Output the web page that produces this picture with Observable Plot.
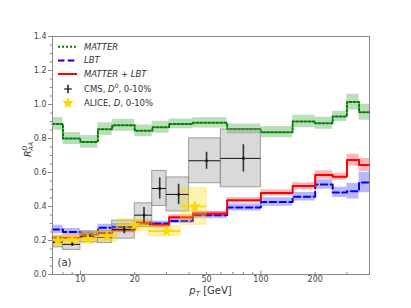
<!DOCTYPE html>
<html>
<head>
<meta charset="utf-8">
<script src="https://cdn.jsdelivr.net/npm/d3@7"></script>
<script src="https://cdn.jsdelivr.net/npm/@observablehq/plot@0.6"></script>
<style>
  html, body { margin: 0; padding: 0; background: white; }
  #chart { width: 411px; height: 308px; }
</style>
</head>
<body>
<div id="chart"></div>
<script>
// ---- Data ----
const theoryEdges = [7, 8, 10, 12.5, 15, 20, 25, 31, 42, 65, 100, 150, 200, 250, 300, 350, 400];
const matter    = [0.886, 0.800, 0.780, 0.855, 0.878, 0.845, 0.866, 0.886, 0.892, 0.856, 0.837, 0.900, 0.890, 0.930, 1.014, 0.955];
const matterErr = [0.038, 0.035, 0.037, 0.037, 0.035, 0.035, 0.035, 0.028, 0.030, 0.030, 0.033, 0.037, 0.035, 0.030, 0.047, 0.047];
const lbt       = [0.264, 0.250, 0.235, 0.275, 0.280, 0.295, 0.300, 0.315, 0.348, 0.394, 0.427, 0.457, 0.530, 0.483, 0.490, 0.541];
const lbtErr    = [0.025, 0.020, 0.020, 0.020, 0.020, 0.015, 0.015, 0.015, 0.020, 0.020, 0.025, 0.025, 0.028, 0.030, 0.046, 0.060];
const mlbt      = [0.215, 0.215, 0.232, 0.244, 0.260, 0.303, 0.289, 0.337, 0.357, 0.437, 0.480, 0.520, 0.585, 0.575, 0.673, 0.644];
const mlbtErr   = [0.015, 0.015, 0.015, 0.015, 0.015, 0.015, 0.015, 0.015, 0.015, 0.016, 0.018, 0.020, 0.025, 0.020, 0.035, 0.038];

const cmsLo   = [6, 8, 10, 12.5, 15, 20, 25, 30, 40, 60];
const cmsHi   = [8, 10, 12.5, 15, 20, 25, 30, 40, 60, 100];
const cmsPt   = [7, 9, 11.25, 13.75, 17.5, 22.5, 27.5, 35, 50, 80];
const cmsR    = [0.190, 0.177, 0.222, 0.220, 0.264, 0.349, 0.506, 0.471, 0.669, 0.683];
const cmsStat = [0.010, 0.010, 0.012, 0.015, 0.025, 0.045, 0.062, 0.060, 0.050, 0.080];
const cmsSyst = [0.030, 0.032, 0.032, 0.035, 0.053, 0.070, 0.103, 0.100, 0.132, 0.170];

const aliceLo   = [7, 8, 10, 12, 16, 24, 36];
const aliceHi   = [8, 10, 12, 16, 24, 36, 50];
const alicePt   = [7.5, 9, 11, 14, 20, 30, 43];
const aliceR    = [0.200, 0.205, 0.210, 0.225, 0.290, 0.255, 0.400];
const aliceStat = [0.010, 0.010, 0.012, 0.015, 0.020, 0.020, 0.027];
const aliceSyst = [0.030, 0.030, 0.030, 0.030, 0.035, 0.030, 0.108];

const yMajor = [0, 0.2, 0.4, 0.6, 0.8, 1.0, 1.2, 1.4];
const yMinor = d3.range(0, 1.4001, 0.05).map(v => +v.toFixed(2));
const xMajor = [10, 100];
const xMinor = [7, 8, 9, 20, 30, 40, 50, 60, 70, 80, 90, 200, 300, 400];
const xLabeled = [10, 20, 50, 100, 200];

// ---- Tables ----
const n = matter.length;
const theory = theoryEdges.map((e, i) => {
  const k = Math.min(i, n - 1);
  return {x: e, m: matter[k], me: matterErr[k], l: lbt[k], le: lbtErr[k], r: mlbt[k], re: mlbtErr[k]};
});
const cms = cmsPt.map((p, i) => ({pt: p, lo: cmsLo[i], hi: cmsHi[i], r: cmsR[i], st: cmsStat[i], sy: cmsSyst[i]}));
const alice = alicePt.map((p, i) => ({pt: p, lo: aliceLo[i], hi: aliceHi[i], r: aliceR[i], st: aliceStat[i], sy: aliceSyst[i]}));

const green = "#008000", blue = "#0000ff", red = "#ff0000", gold = "#ffd700";

const chart = Plot.plot({
  width: 411, height: 308,
  marginLeft: 52, marginRight: 42, marginTop: 36, marginBottom: 34,
  x: {type: "log", domain: [7, 400]},
  y: {domain: [0, 1.4]},
  style: {fontFamily: "DejaVu Sans", fontSize: "8px", color: "#444", background: "white", overflow: "visible"},
  marks: [
    // MATTER
    Plot.areaY(theory, {x: "x", y1: d => d.m - d.me, y2: d => d.m + d.me, curve: "step-after", fill: green, fillOpacity: 0.27}),
    Plot.line(theory, {x: "x", y: "m", curve: "step-after", stroke: green, strokeWidth: 2, strokeDasharray: "2,2"}),
    // LBT
    Plot.areaY(theory, {x: "x", y1: d => d.l - d.le, y2: d => d.l + d.le, curve: "step-after", fill: blue, fillOpacity: 0.28}),
    Plot.line(theory, {x: "x", y: "l", curve: "step-after", stroke: blue, strokeWidth: 2, strokeDasharray: "6.5,3.3"}),
    // MATTER + LBT
    Plot.areaY(theory, {x: "x", y1: d => d.r - d.re, y2: d => d.r + d.re, curve: "step-after", fill: red, fillOpacity: 0.28}),
    Plot.line(theory, {x: "x", y: "r", curve: "step-after", stroke: red, strokeWidth: 2}),
    // CMS systematic boxes
    Plot.rect(cms, {x1: "lo", x2: "hi", y1: d => d.r - d.sy, y2: d => d.r + d.sy, fill: "#808080", fillOpacity: 0.3, stroke: "#8a8a8a", strokeOpacity: 0.8, strokeWidth: 1, clip: true}),
    // ALICE systematic boxes
    Plot.rect(alice, {x1: "lo", x2: "hi", y1: d => d.r - d.sy, y2: d => d.r + d.sy, fill: gold, fillOpacity: 0.3, stroke: gold, strokeOpacity: 0.35, strokeWidth: 1, clip: true}),
    // CMS error bars
    Plot.ruleY(cms, {y: "r", x1: "lo", x2: "hi", stroke: "#111", strokeWidth: 1, clip: true}),
    Plot.ruleX(cms, {x: "pt", y1: d => d.r - d.st, y2: d => d.r + d.st, stroke: "#333", strokeWidth: 1.6, clip: true}),
    Plot.dot(cms, {x: "pt", y: "r", r: 1.3, fill: "#000", clip: true}),
    // ALICE error bars
    Plot.ruleY(alice, {y: "r", x1: "lo", x2: "hi", stroke: gold, strokeWidth: 1.6, clip: true}),
    Plot.ruleX(alice, {x: "pt", y1: d => d.r - d.st, y2: d => d.r + d.st, stroke: gold, strokeWidth: 1.6, clip: true}),
    Plot.dot(alice, {x: "pt", y: "r", symbol: "star", r: 3.8, fill: gold, stroke: "none", clip: true}),
    // Axes
    Plot.axisY({ticks: yMajor, tickSize: 4, tickPadding: 2, tickFormat: d => d.toFixed(1), stroke: "#888", fill: "#444", label: null}),
    Plot.axisY({ticks: yMinor, tickSize: 2, tickFormat: () => "", stroke: "#888", label: null}),
    Plot.axisX({ticks: xLabeled, tickSize: 0, tickPadding: 2, tickFormat: d => String(d), fill: "#444", label: null}),
    Plot.ruleX(xMajor, {x: d => d, y1: 0, y2: 0.021, stroke: "#888", strokeWidth: 1}),
    Plot.ruleX(xMinor, {x: d => d, y1: 0, y2: 0.012, stroke: "#888", strokeWidth: 1}),
    Plot.frame({stroke: "#888", strokeWidth: 1}),
    Plot.text(["(a)"], {frameAnchor: "bottom-left", dx: 5, dy: -9, text: d => d, fontSize: 10, fill: "#333", textAnchor: "start"})
  ]
});

document.getElementById("chart").appendChild(chart);

// ---- Axis titles and legend (real text) ----
const svg = d3.select(chart);
const ff = "DejaVu Sans";

// y label R^D_AA
const yl = svg.append("g").attr("transform", "translate(31,150) rotate(-90)")
  .attr("font-family", ff).attr("fill", "#333").attr("font-style", "italic").attr("text-anchor", "start");
yl.append("text").attr("x", -7).attr("y", 0).attr("font-size", 9.5).text("R");
yl.append("text").attr("x", -0.8).attr("y", -3.6).attr("font-size", 6.5).text("D");
yl.append("text").attr("x", -0.8).attr("y", 2.2).attr("font-size", 6.5).text("AA");

// x label p_T [GeV]
const xl = svg.append("text").attr("x", 210.5).attr("y", 294).attr("text-anchor", "middle")
  .attr("font-family", ff).attr("font-size", 10).attr("fill", "#333");
xl.append("tspan").attr("font-style", "italic").text("p");
xl.append("tspan").attr("font-style", "italic").attr("font-size", 7).attr("dy", 2).text("T");
xl.append("tspan").attr("dy", -2).text(" [GeV]");

// legend
const lg = svg.append("g").attr("font-family", ff).attr("font-size", 8.5).attr("fill", "#333").attr("text-anchor", "start");
const rows = [46.7, 60.5, 74, 89, 103];
const sx1 = 58, sx2 = 77, tx = 84;
lg.append("line").attr("x1", sx1).attr("x2", sx2).attr("y1", rows[0]).attr("y2", rows[0])
  .attr("stroke", green).attr("stroke-width", 2).attr("stroke-dasharray", "2,2");
lg.append("line").attr("x1", sx1).attr("x2", sx2).attr("y1", rows[1]).attr("y2", rows[1])
  .attr("stroke", blue).attr("stroke-width", 2).attr("stroke-dasharray", "6.5,3.3");
lg.append("line").attr("x1", sx1).attr("x2", sx2).attr("y1", rows[2]).attr("y2", rows[2])
  .attr("stroke", red).attr("stroke-width", 2);
lg.append("line").attr("x1", 64.2).attr("x2", 71.8).attr("y1", rows[3]).attr("y2", rows[3])
  .attr("stroke", "#111").attr("stroke-width", 1.2);
lg.append("line").attr("x1", 68).attr("x2", 68).attr("y1", rows[3] - 4.3).attr("y2", rows[3] + 4.3)
  .attr("stroke", "#222").attr("stroke-width", 1.5);
lg.append("line").attr("x1", 64.2).attr("x2", 71.8).attr("y1", rows[4]).attr("y2", rows[4])
  .attr("stroke", gold).attr("stroke-width", 1.5);
lg.append("line").attr("x1", 68).attr("x2", 68).attr("y1", rows[4] - 4.3).attr("y2", rows[4] + 4.3)
  .attr("stroke", gold).attr("stroke-width", 1.5);
lg.append("path").attr("d", d3.symbol(d3.symbolStar, 42)()).attr("transform", `translate(68,${rows[4]})`).attr("fill", gold);

lg.append("text").attr("x", tx).attr("y", rows[0]).attr("dy", "0.35em").attr("font-style", "italic").text("MATTER");
lg.append("text").attr("x", tx).attr("y", rows[1]).attr("dy", "0.35em").attr("font-style", "italic").text("LBT");
lg.append("text").attr("x", tx).attr("y", rows[2]).attr("dy", "0.35em").attr("font-style", "italic").text("MATTER + LBT");
const t3 = lg.append("text").attr("x", tx).attr("y", rows[3]).attr("dy", "0.35em");
t3.append("tspan").text("CMS, ");
t3.append("tspan").attr("font-style", "italic").text("D");
t3.append("tspan").attr("font-size", 6).attr("dy", -3.5).text("0");
t3.append("tspan").attr("dy", 3.5).text(", 0-10%");
const t4 = lg.append("text").attr("x", tx).attr("y", rows[4]).attr("dy", "0.35em");
t4.append("tspan").text("ALICE, ");
t4.append("tspan").attr("font-style", "italic").text("D");
t4.append("tspan").text(", 0-10%");
</script>
</body>
</html>
